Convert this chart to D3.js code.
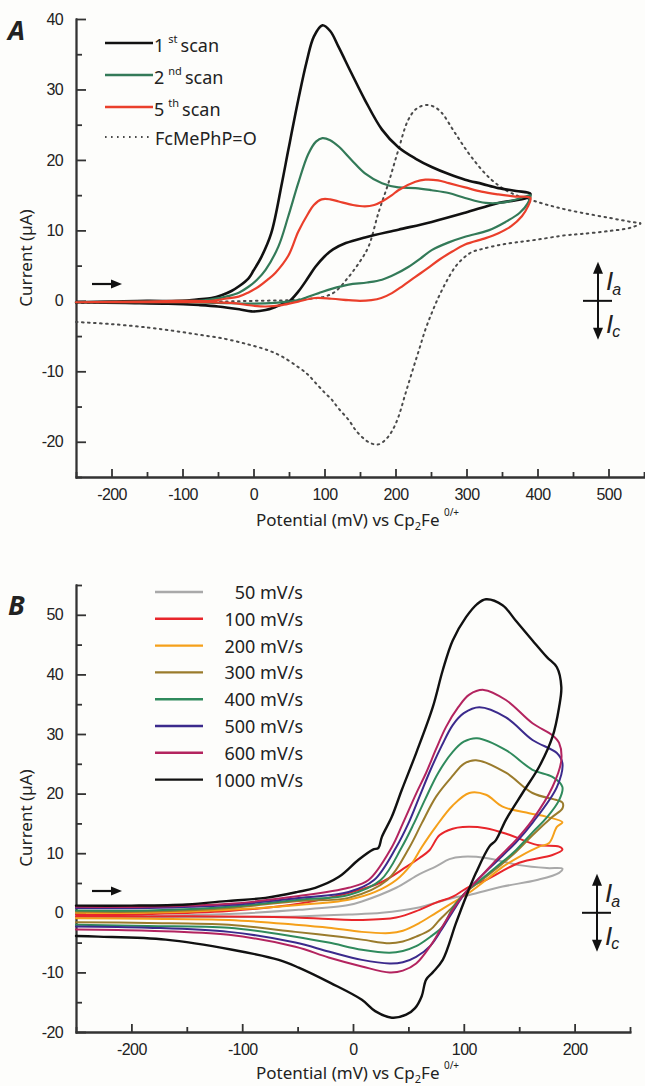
<!DOCTYPE html>
<html>
<head>
    <meta charset="utf-8"/>
    <title>CV scans</title>
    <style>
        body { margin:0; background:#fdfdfb; }
        svg { display:block; }
        .tick text { font-family:'Liberation Sans', Arial, sans-serif; font-size:16px; fill:#222; letter-spacing:-0.6px; }
        .axis path, .axis line { stroke:#333; stroke-width:1.8px; }
        .lbl { font-family:'Noto Sans', sans-serif; fill:#222; }
        .pol { font-family:'Liberation Sans', Arial, sans-serif; fill:#222; font-style:italic; }
        .cv { fill:none; stroke-linejoin:round; stroke-linecap:round; }
    </style>
    <script src="https://cdnjs.cloudflare.com/ajax/libs/d3/7.8.5/d3.min.js"></script>
</head>
<body>
<svg id="fig" width="645" height="1086"></svg>
<script>

// ---- panel A data : [potential mV, current uA], forward then reverse
const scan1st = [[-250,-0.2],[-200,-0.1],[-150,0],[-100,0],[-80,0.2],[-59,0.4],[-45,0.8],[-31,1.4],[-20,2.1],[-7,3.2],[0,4.3],[11,6.2],[25,9.6],[40,16.7],[49,21.4],[63,28.5],[75,34],[85,37.5],[97,39.1],[108,38.3],[120,36],[138,32.3],[157,28.5],[181,24.3],[204,21.8],[228,20.2],[251,19],[275,18],[298,17.2],[322,16.6],[345,16],[370,15.6],[390,15.2],
    [385,14.6],[345,13.9],[298,12.5],[251,11.2],[204,10.1],[157,9.0],[130,8.2],[112,7.3],[100,6.3],[87,4.8],[77,3.3],[63,1.3],[50,-0.1],[42,-0.4],[30,-0.9],[17,-1.3],[-3,-1.5],[-20,-1.2],[-50,-0.8],[-77,-0.6],[-120,-0.4],[-180,-0.3],[-250,-0.2]];

const scan2nd = [[-250,-0.2],[-150,-0.1],[-100,0],[-77,0],[-60,0.2],[-39,0.6],[-20,1.2],[-7,2],[5,3],[17,4.4],[35,7.7],[49,12],[63,16.7],[77,20.8],[88,22.6],[97,23.1],[108,22.8],[120,21.9],[138,20],[157,18.1],[181,16.7],[204,16.1],[228,16],[251,15.7],[275,15.3],[298,14.6],[327,13.9],[355,14],[383,14.8],[390,15],
    [386,13.8],[375,12.5],[355,11.2],[331,10],[298,9.1],[275,8.3],[251,7.2],[235,6],[218,4.8],[200,3.8],[181,3],[160,2.6],[134,2.3],[110,1.7],[92,1.1],[75,0.5],[63,0.1],[49,-0.1],[30,-0.3],[0,-0.4],[-50,-0.3],[-100,-0.2],[-250,-0.2]];

const scan5th = [[-250,-0.2],[-150,-0.1],[-100,0],[-59,0],[-40,0.3],[-21,0.6],[-7,1.2],[7,2],[20,3],[31,4],[49,6.4],[63,9.8],[77,12.4],[85,13.6],[96,14.4],[108,14.4],[120,14.1],[140,13.6],[157,13.4],[170,13.6],[181,14.1],[195,15],[204,15.7],[228,16.9],[242,17.2],[260,17.1],[275,16.7],[298,16.1],[321,15.5],[345,15.1],[369,14.8],[390,14.6],
    [386,13.3],[378,12],[363,10.6],[345,9.6],[327,8.9],[298,8.0],[280,7],[261,5.8],[245,4.6],[228,3.4],[210,2.1],[195,1.1],[180,0.4],[166,0.1],[150,0],[134,0.1],[110,0.3],[87,0.4],[63,-0.1],[40,-0.6],[17,-0.8],[0,-0.7],[-31,-0.3],[-60,-0.2],[-250,-0.2]];

const fcMePhPO = [[-250,-0.3],[-150,-0.2],[-50,-0.1],[0,0],[50,0.1],[80,0.3],[100,0.6],[115,1.3],[134,3.4],[150,5.6],[162,7.7],[176,12.5],[190,16.7],[204,21.4],[218,25.7],[230,27.3],[244,27.8],[255,27.5],[265,26.7],[284,23.8],[307,20.4],[335,17.2],[363,15.3],[401,14],[430,13.2],[462,12.5],[500,11.8],[532,11.2],[545,11],
    [532,10.4],[500,9.9],[462,9.5],[439,9.3],[400,8.7],[370,8.3],[345,7.9],[320,7.3],[307,6.9],[295,6],[284,4.8],[272,2.8],[261,0.6],[252,-1.5],[242,-4.1],[233,-7],[223,-10.2],[213,-13.5],[204,-16.5],[195,-18.5],[186,-19.7],[178,-20.3],[173,-20.4],[165,-20.2],[157,-19.7],[145,-18.5],[134,-16.9],[120,-15.3],[110,-14],[100,-13],[87,-11.6],[77,-10.5],[63,-9.4],[40,-7.9],[20,-7],[-7,-6.2],[-40,-5.4],[-77,-4.8],[-110,-4.3],[-148,-3.8],[-200,-3.3],[-250,-3]];

// ---- panel B data : scan rate series
const cv50 = [[-250,-0.5],[-185,-0.5],[-112,-0.2],[-49,0.5],[-4,1.3],[8,1.9],[39,4.2],[60,6.5],[75,7.8],[87,9.0],[99,9.4],[120,9.2],[150,8],[175,7.5],[189,7.4],
    [186,6.7],[166,5.5],[135,4.4],[105,3],[90,2.5],[57,0.8],[26,0],[-4,-0.3],[-49,-0.6],[-112,-0.7],[-185,-0.7],[-250,-0.7]];
const cv100 = [[-250,-0.3],[-185,-0.2],[-112,0.3],[-49,1.5],[-22,2.5],[24,5],[48,7.7],[60,9.2],[69,10.5],[78,13],[90,14.1],[99,14.4],[120,14.2],[141,13.1],[166,11.4],[186,11.1],[189,10.6],
    [180,9.7],[150,8.4],[120,5.5],[105,4.4],[90,2.7],[75,1.7],[60,0.5],[39,-0.8],[8,-1.2],[-52,-0.8],[-112,-0.6],[-185,-0.6],[-250,-0.6]];
const cv200 = [[-250,0],[-185,0],[-112,0.5],[-49,1.3],[-4,2.2],[20,3.5],[39,5.5],[52,8],[62,11],[75,14.5],[90,18],[105,20.1],[120,19.8],[135,17.8],[159,16.7],[175,16.1],[189,15.2],
    [184,14.4],[177,11.7],[168,11.1],[150,9.4],[135,7.7],[120,5.5],[105,3.4],[90,1.7],[75,0],[60,-1.7],[45,-3],[33,-3.4],[8,-3.2],[-22,-2.5],[-52,-2],[-112,-1.2],[-185,-1.0],[-250,-0.9]];
const cv300 = [[-250,0.2],[-185,0.2],[-112,0.8],[-49,2],[-4,2.5],[31,5.5],[51,11],[62,15],[75,19.5],[90,23],[100,25],[111,25.6],[138,23.5],[162,20.1],[184,18.9],[189,18.5],
    [189,17.5],[180,16.1],[162,13],[147,10.2],[130,7.5],[115,5.3],[102,3.5],[90,1],[78,-1.2],[70,-2.8],[57,-4],[45,-4.8],[33,-5.1],[8,-4.5],[-22,-3.8],[-52,-3.2],[-112,-2],[-185,-1.7],[-250,-1.6]];
const cv400 = [[-250,0.4],[-185,0.4],[-112,1],[-49,2.2],[-4,3],[25,5.5],[44,11],[55,15],[65,19],[77,23.5],[90,27],[100,28.7],[112,29.3],[138,27.3],[162,24],[180,22.8],[189,21.1],
    [186,18.9],[175,16],[162,13.5],[147,10.5],[130,7.8],[115,5.5],[102,3.5],[90,0.8],[81,-2.3],[70,-4],[57,-5.6],[45,-6.4],[33,-6.7],[8,-6.2],[-22,-5],[-52,-4],[-112,-2.5],[-185,-2.2],[-250,-2]];
const cv500 = [[-250,0.8],[-185,0.8],[-112,1.3],[-49,2.5],[-4,3.5],[19,5.5],[39,11],[50,15],[60,19.5],[70,24],[80,28],[90,31.5],[100,33.5],[114,34.5],[138,32.8],[162,29],[184,26.8],[189,25.1],
    [184,21.1],[162,15.1],[147,11.8],[130,8.7],[115,6],[102,3.5],[90,0.2],[80,-2.8],[70,-5.5],[57,-7.4],[45,-8.3],[33,-8.5],[8,-7.9],[-22,-6.5],[-52,-5],[-112,-3.2],[-185,-2.5],[-250,-2.3]];
const cv600 = [[-250,1.0],[-185,1.0],[-112,1.5],[-49,2.8],[-4,4.2],[14,5.5],[35,11],[45,15],[57,20],[66,23.5],[75,27.5],[84,31.2],[95,34.5],[105,36.6],[118,37.4],[138,35.7],[162,31.8],[180,29.8],[186,28.5],[188,25.6],
    [180,21.1],[162,15.6],[147,12.2],[130,9],[115,6],[102,3.5],[90,0.5],[80,-2.5],[70,-5.5],[57,-8.5],[45,-9.7],[33,-10],[8,-9],[-22,-7.5],[-52,-5.7],[-112,-3.7],[-185,-3.0],[-250,-2.8]];
const cv1000 = [[-250,1.2],[-200,1.2],[-150,1.4],[-112,2.0],[-79,2.5],[-50,3.5],[-34,4.2],[-13,6],[5,8.9],[18,10.6],[23,10.9],[26,12.7],[35,16.1],[44,20.6],[57,26.8],[72,34.5],[81,40.7],[90,45.7],[102,49.6],[112,51.8],[120,52.6],[135,51.6],[147,49],[162,45.7],[175,42.9],[184,41.2],[188,37.9],
    [186,34.5],[180,29.5],[168,24.5],[153,20.1],[138,15.6],[129,12.2],[123,11.1],[111,6.7],[102,2.7],[93,-1.7],[81,-7.9],[72,-10],[66,-11.2],[62,-14],[56,-16],[48,-17.1],[35,-17.6],[20,-16.5],[8,-14.6],[-20,-11.8],[-49,-9.2],[-67,-7.9],[-109,-6.2],[-169,-4.5],[-230,-4],[-250,-3.9]];

const scanRates = [50, 100, 200, 300, 400, 500, 600, 1000];
const seriesB = [cv50, cv100, cv200, cv300, cv400, cv500, cv600, cv1000];
const colorsB = ['#a9a9a9', '#e8262b', '#f5a01a', '#9a7b2c', '#2f8a5c', '#3b2a8c', '#b3245f', '#111111'];

const xTicksA = [-200, -100, 0, 100, 200, 300, 400, 500];
const yTicksA = [-20, -10, 0, 10, 20, 30, 40];
const xTicksB = [-200, -100, 0, 100, 200];
const yTicksB = [-20, -10, 0, 10, 20, 30, 40, 50];

const svg = d3.select('#fig');

const xA = d3.scaleLinear().domain([-250, 550]).range([76, 644]);
const yA = d3.scaleLinear().domain([-25, 40]).range([477, 19]);
const xB = d3.scaleLinear().domain([-250, 250]).range([76, 630]);
const yB = d3.scaleLinear().domain([-20, 55]).range([1032, 585]);

function range5(a, b, step) {
    const out = [];
    for (let v = a; v <= b + 1e-9; v += step) out.push(v);
    return out;
}

function drawAxes(x, y, xMajor, yMajor) {
    const bottom = y.range()[0], left = x.range()[0];
    const xd = x.domain(), yd = y.domain();
    const xMinor = range5(xd[0], xd[1], 50).filter(v => !xMajor.includes(v));
    const yMinor = range5(yd[0], yd[1], 5).filter(v => !yMajor.includes(v));

    svg.append('g').attr('class', 'axis').attr('transform', `translate(0,${bottom})`)
        .call(d3.axisBottom(x).tickValues(xMinor).tickSize(-5).tickSizeOuter(0).tickFormat(''));
    svg.append('g').attr('class', 'axis').attr('transform', `translate(0,${bottom})`)
        .call(d3.axisBottom(x).tickValues(xMajor).tickSize(-8).tickSizeOuter(0).tickPadding(12).tickFormat(d => String(d)));

    svg.append('g').attr('class', 'axis').attr('transform', `translate(${left},0)`)
        .call(d3.axisLeft(y).tickValues(yMinor).tickSize(-6).tickSizeOuter(0).tickFormat(''));
    svg.append('g').attr('class', 'axis').attr('transform', `translate(${left},0)`)
        .call(d3.axisLeft(y).tickValues(yMajor).tickSize(-10).tickSizeOuter(0).tickPadding(13).tickFormat(d => String(d)));
    svg.selectAll('.axis path').attr('stroke-linecap', 'square');
}

function drawCurve(x, y, data, color, width, dash) {
    const line = d3.line().x(d => x(d[0])).y(d => y(d[1])).curve(d3.curveCatmullRom.alpha(0.5));
    svg.append('path').datum(data).attr('class', 'cv')
        .attr('d', line).attr('stroke', color).attr('stroke-width', width)
        .attr('stroke-dasharray', dash || null);
}

function xTitle(yBase) {
    const t = svg.append('text').attr('class', 'lbl').attr('x', 256).attr('y', yBase).attr('font-size', 17);
    t.append('tspan').text('Potential (mV) vs Cp');
    t.append('tspan').attr('font-size', 11).attr('dy', 4).text('2');
    t.append('tspan').attr('dy', -4).text('Fe ');
    t.append('tspan').attr('font-size', 10).attr('dy', -10).text('0/+');
}

function yTitle(cy) {
    svg.append('text').attr('class', 'lbl').attr('font-size', 17)
        .attr('transform', `translate(32,${cy}) rotate(-90)`)
        .attr('text-anchor', 'middle').text('Current (µA)');
}

function scanArrow(x0, yy) {
    svg.append('line').attr('x1', x0).attr('x2', x0 + 22).attr('y1', yy).attr('y2', yy)
        .attr('stroke', '#111').attr('stroke-width', 2.2);
    svg.append('path').attr('d', `M${x0 + 30},${yy} L${x0 + 19},${yy - 4.5} L${x0 + 19},${yy + 4.5} Z`).attr('fill', '#111');
}

function polarity(cx, cy) {
    svg.append('line').attr('x1', cx).attr('x2', cx).attr('y1', cy - 30).attr('y2', cy + 30)
        .attr('stroke', '#111').attr('stroke-width', 2);
    svg.append('line').attr('x1', cx - 15).attr('x2', cx + 14).attr('y1', cy).attr('y2', cy)
        .attr('stroke', '#111').attr('stroke-width', 2);
    svg.append('path').attr('d', `M${cx},${cy - 39} L${cx - 5},${cy - 27} L${cx + 5},${cy - 27} Z`).attr('fill', '#111');
    svg.append('path').attr('d', `M${cx},${cy + 39} L${cx - 5},${cy + 27} L${cx + 5},${cy + 27} Z`).attr('fill', '#111');
    const ia = svg.append('text').attr('class', 'pol').attr('x', cx + 8).attr('y', cy - 11).attr('font-size', 26);
    ia.append('tspan').text('I');
    ia.append('tspan').attr('font-size', 16).attr('dx', -1).attr('dy', 5).text('a');
    const ic = svg.append('text').attr('class', 'pol').attr('x', cx + 8).attr('y', cy + 32).attr('font-size', 26);
    ic.append('tspan').text('I');
    ic.append('tspan').attr('font-size', 16).attr('dx', -1).attr('dy', 4).text('c');
}

// ================= panel A =================
drawAxes(xA, yA, xTicksA, yTicksA);
drawCurve(xA, yA, fcMePhPO, '#4a4a4a', 2, '1.6,4.4');
drawCurve(xA, yA, scan1st, '#111111', 2.6);
drawCurve(xA, yA, scan2nd, '#337a58', 2.2);
drawCurve(xA, yA, scan5th, '#ea3f2b', 2.2);

svg.append('text').attr('class', 'lbl').attr('x', 8).attr('y', 40)
    .attr('font-size', 27).attr('font-weight', 'bold').attr('font-style', 'italic')
    .attr('font-family', "'Liberation Sans', Arial, sans-serif").text('A');

const scanLabels = [['1', 'st'], ['2', 'nd'], ['5', 'th']];
const scanColors = ['#111111', '#337a58', '#ea3f2b'];
const legYA = [43, 75, 107, 137];
scanLabels.forEach((s, i) => {
    svg.append('line').attr('x1', 105).attr('x2', 153).attr('y1', legYA[i]).attr('y2', legYA[i])
        .attr('stroke', scanColors[i]).attr('stroke-width', 2.4);
    const t = svg.append('text').attr('class', 'lbl').attr('x', 154).attr('y', legYA[i] + 9).attr('font-size', 18);
    t.append('tspan').text(s[0]);
    t.append('tspan').attr('font-size', 11).attr('dx', 4).attr('dy', -9).text(s[1]);
    t.append('tspan').attr('dx', 3).attr('dy', 9).text('scan');
});
svg.append('line').attr('x1', 105).attr('x2', 153).attr('y1', legYA[3]).attr('y2', legYA[3])
    .attr('stroke', '#4a4a4a').attr('stroke-width', 2).attr('stroke-dasharray', '1.6,4.4');
svg.append('text').attr('class', 'lbl').attr('x', 155).attr('y', legYA[3] + 8).attr('font-size', 18).text('FcMePhP=O');

scanArrow(92, 284);
polarity(598, yA(0));
xTitle(526);
yTitle(258);

// ================= panel B =================
drawAxes(xB, yB, xTicksB, yTicksB);
seriesB.forEach((s, i) => drawCurve(xB, yB, s, colorsB[i], i === 7 ? 2.4 : 2));

svg.append('text').attr('class', 'lbl').attr('x', 8).attr('y', 615)
    .attr('font-size', 27).attr('font-weight', 'bold').attr('font-style', 'italic')
    .attr('font-family', "'Liberation Sans', Arial, sans-serif").text('B');

scanRates.forEach((r, i) => {
    const ly = 592 + i * 26.8;
    svg.append('line').attr('x1', 155).attr('x2', 203).attr('y1', ly).attr('y2', ly)
        .attr('stroke', colorsB[i]).attr('stroke-width', 2.4);
    svg.append('text').attr('class', 'lbl').attr('x', 303).attr('y', ly + 7)
        .attr('text-anchor', 'end').attr('font-size', 18).text(`${r} mV/s`);
});

scanArrow(92, 891);
polarity(597, yB(0));
xTitle(1079);
yTitle(818);

</script>
</body>
</html>
